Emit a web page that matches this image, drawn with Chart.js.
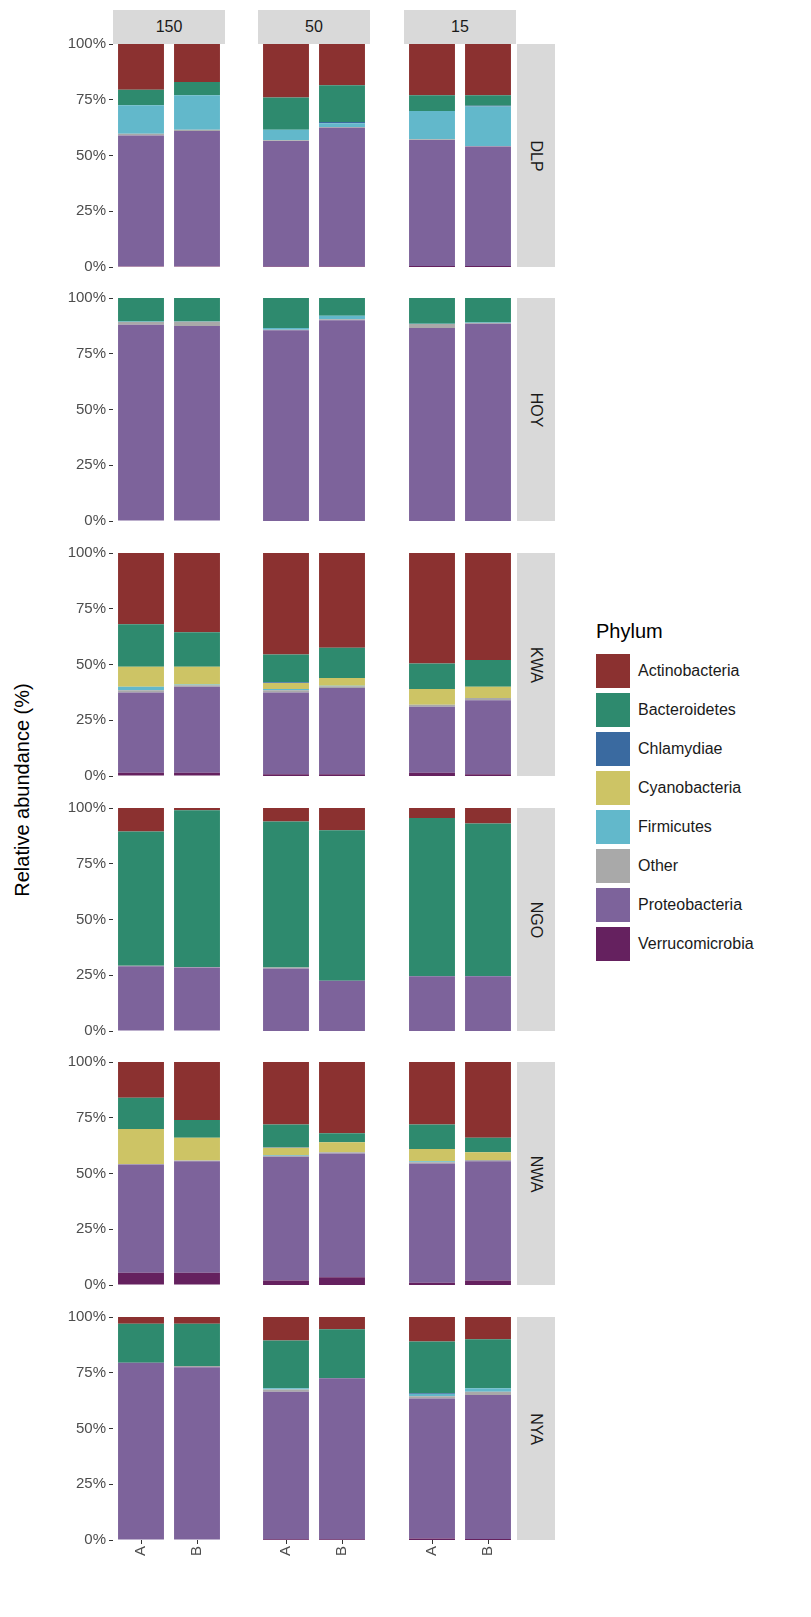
<!DOCTYPE html>
<html>
<head>
<meta charset="utf-8">
<script src="https://cdn.jsdelivr.net/npm/chart.js@4"></script>
<style>
  html, body { margin: 0; background: #fff; font-family: "Liberation Sans", Arial, sans-serif; overflow: hidden; }
  #page { position: relative; width: 811px; height: 1617px; overflow: hidden; }
  .box { position: absolute; }
  .strip { position: absolute; background: #d9d9d9; color: #1a1a1a; font-size: 16px;
           display: flex; align-items: center; justify-content: center; }
  .strip.r span { transform: rotate(90deg); }
  .ytitle { position: absolute; left: 22px; top: 790px; font-size: 20px; color: #000;
            transform: translate(-50%, -50%) rotate(-90deg); white-space: nowrap; }
  #legend { position: absolute; left: 596px; top: 620px; }
  #legend .t { font-size: 20px; margin-bottom: 8px; }
  #legend .row { display: flex; align-items: center; height: 39px; }
  #legend .sw { width: 34px; height: 34px; margin-right: 8px; }
  #legend .lb { font-size: 16px; color: #1a1a1a; }
</style>
</head>
<body>
<div id="page"></div>
<script>
// Faceted layout: rows = sites, columns = depths, two replicates per panel
const sites = ['DLP', 'HOY', 'KWA', 'NGO', 'NWA', 'NYA'];
const depths = ['150', '50', '15'];
const reps = ['A', 'B'];
const yTicks = [0, 25, 50, 75, 100];

// values (%) in order: site -> depth -> replicate (36 per phylum)
const verrucomicrobia = [0.5,0.5, 0.2,0.2, 0.5,0.5,  0,0, 0,0, 0,0,  1.5,1.5, 0.8,0.8, 1.5,0.8,  0,0, 0,0, 0,0,  5.5,5.5, 2,3.5, 1,2,  0.2,0.2, 0.3,0.3, 0.7,0.5];
const proteobacteria  = [58.5,60.5, 56.3,62.3, 56.5,53.5,  88,87.5, 85.5,90, 86.5,88.5,  36,38.5, 36.7,38.7, 29.5,33.2,  29,28.5, 28,22.5, 24.5,24.5,  48.5,50, 55.5,55.5, 53.5,53.5,  79.3,77.3, 66.2,72.2, 62.8,64.5];
const other           = [0.7,0.5, 0.3,0.3, 0.3,0.3,  1.2,1.8, 0.3,0.5, 1.8,0.3,  1,0.7, 1,0.7, 1,1,  0.3,0.2, 0.5,0, 0,0,  0.3,0.3, 0.5,0.5, 0.5,0.5,  0,0.5, 1,0, 1,1.5];
const firmicutes      = [12.8,15.5, 4.7,1.7, 12.7,17.7,  0.3,0.2, 0.7,1.5, 0.2,0.2,  1.5,0.3, 0.5,0.3, 0,0,  0,0, 0,0, 0,0,  0,0, 0.3,0, 0.5,0,  0,0, 0.5,0, 1,1.5];
const cyanobacteria   = [0,0, 0,0, 0,0,  0,0, 0,0, 0,0,  9,8, 2.7,3.5, 7,5,  0,0, 0,0, 0,0,  15.7,10.2, 3.2,4.5, 5.5,3.5,  0,0, 0,0, 0,0];
const chlamydiae      = [0,0, 0,0.5, 0,0.3,  0,0, 0,0, 0,0,  0,0, 0.3,0, 0,0,  0,0, 0,0, 0,0.2,  0,0, 0.3,0, 0,0,  0,0, 0,0, 0.3,0];
const bacteroidetes   = [7,6, 14.5,16.5, 7,4.7,  10.5,10.5, 13.5,8, 11.5,11,  19,15.5, 12.5,13.5, 11.5,12,  60.2,70.3, 65.5,67.5, 71,68.3,  14,8, 10.2,4, 11,6.5,  17.5,19, 21.5,22, 23.2,22];
const actinobacteria  = [20.5,17, 24,18.5, 23,23,  0,0, 0,0, 0,0,  32,36, 45.5,42.5, 49.5,48,  10.5,1, 6,10, 4.5,7,  16,26, 28,32, 29,34,  3,3, 10.5,5.5, 11,10.5];

// bottom-to-top stacking order, legend order is alphabetical
const phyla = [
  ['Verrucomicrobia', verrucomicrobia, '#65215f'],
  ['Proteobacteria', proteobacteria, '#7d639b'],
  ['Other', other, '#a9a9a9'],
  ['Firmicutes', firmicutes, '#62b8cb'],
  ['Cyanobacteria', cyanobacteria, '#cdc465'],
  ['Chlamydiae', chlamydiae, '#3a6aa0'],
  ['Bacteroidetes', bacteroidetes, '#2e8a6e'],
  ['Actinobacteria', actinobacteria, '#8b3130']
];

const page = document.getElementById('page');
const colLeft = [113, 258, 404];
const panelW = 112, panelH = 223;
const rowTop = [44, 298, 553, 808, 1062, 1317];
const pad = 16;

function addDiv(cls, l, t, w, h, html) {
  const d = document.createElement('div');
  d.className = cls;
  d.style.left = l + 'px'; d.style.top = t + 'px';
  d.style.width = w + 'px'; d.style.height = h + 'px';
  if (html) d.innerHTML = html;
  page.appendChild(d);
  return d;
}

// column strips
depths.forEach((d, c) => addDiv('strip', colLeft[c], 10, panelW, 34, d));
// row strips
sites.forEach((s, r) => addDiv('strip r', 517, rowTop[r], 38, panelH, '<span>' + s + '</span>'));

const yTitle = document.createElement('div');
yTitle.className = 'ytitle';
yTitle.textContent = 'Relative abundance (%)';
page.appendChild(yTitle);

sites.forEach((site, r) => {
  depths.forEach((depth, c) => {
    const first = c === 0, last = r === sites.length - 1;
    const axisW = 73;
    const left = first ? colLeft[c] - axisW : colLeft[c];
    const width = first ? panelW + axisW : panelW;
    const top = rowTop[r] - pad;
    const height = panelH + pad + (last ? 40 : pad);
    const box = addDiv('box', left, top, width, height);
    const cv = document.createElement('canvas');
    cv.style.width = width + 'px';
    cv.style.height = height + 'px';
    cv.width = width; cv.height = height;
    box.appendChild(cv);
    const base = (r * 3 + c) * 2;

    new Chart(cv.getContext('2d'), {
      type: 'bar',
      data: {
        labels: reps,
        datasets: phyla.map(p => ({
          label: p[0],
          data: [p[1][base], p[1][base + 1]],
          backgroundColor: p[2],
          borderWidth: 0,
          barPercentage: 0.82,
          categoryPercentage: 1
        }))
      },
      options: {
        responsive: false,
        animation: false,
        layout: { padding: { top: pad, bottom: last ? 0 : pad, left: 0, right: 0 } },
        plugins: { legend: { display: false }, tooltip: { enabled: false } },
        scales: {
          x: {
            stacked: true,
            display: last,
            grid: { drawOnChartArea: false, offset: false, tickLength: 4, color: '#333' },
            border: { display: false },
            ticks: { color: '#4d4d4d', font: { size: 15, family: 'Liberation Sans' },
                     autoSkip: false, minRotation: 90, maxRotation: 90, padding: 2 },
            afterFit: s => { s.height = last ? 40 : 0; }
          },
          y: {
            stacked: true,
            min: 0, max: 100,
            display: first,
            grid: { drawOnChartArea: false, tickLength: 4, color: '#333' },
            border: { display: false },
            afterBuildTicks: s => { s.ticks = yTicks.map(v => ({ value: v })); },
            ticks: { color: '#4d4d4d', font: { size: 15, family: 'Liberation Sans' },
                     callback: v => v + '%', padding: 3 },
            afterFit: s => { s.width = first ? axisW : 0; }
          }
        }
      }
    });
  });
});

// legend
const legend = document.createElement('div');
legend.id = 'legend';
let html = '<div class="t">Phylum</div>';
phyla.slice().sort((a, b) => a[0].localeCompare(b[0])).forEach(p => {
  html += '<div class="row"><div class="sw" style="background:' + p[2] + '"></div><div class="lb">' + p[0] + '</div></div>';
});
legend.innerHTML = html;
page.appendChild(legend);
</script>
</body>
</html>
